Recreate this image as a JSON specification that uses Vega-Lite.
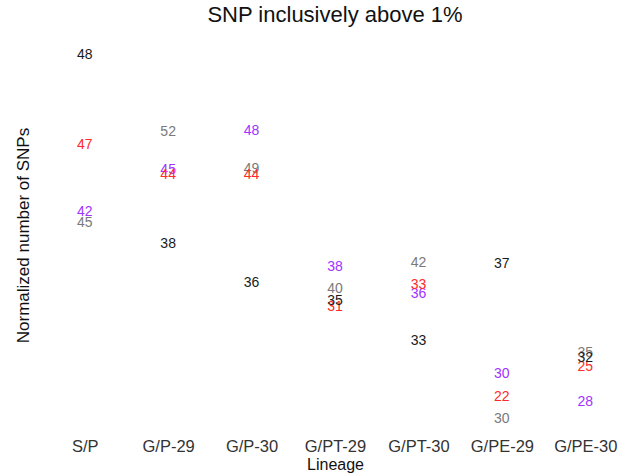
{
  "$schema": "https://vega.github.io/schema/vega-lite/v6.json",
  "autosize": {"type": "none"},
  "width": 584,
  "height": 390,
  "padding": {"left": 43, "top": 40, "right": 0, "bottom": 46},
  "background": "white",
  "config": {
    "view": {"stroke": null},
    "font": "Liberation Sans"
  },
  "title": {
    "text": "SNP inclusively above 1%",
    "fontSize": 22,
    "fontWeight": "normal",
    "color": "#111111",
    "anchor": "middle",
    "offset": 13
  },
  "data": {
    "values": [
      {"lineage": "S/P", "group": "A", "snps": 48, "normalized": 37.5},
      {"lineage": "S/P", "group": "B", "snps": 47, "normalized": 28.5},
      {"lineage": "S/P", "group": "D", "snps": 42, "normalized": 21.8},
      {"lineage": "S/P", "group": "C", "snps": 45, "normalized": 20.7},
      {"lineage": "G/P-29", "group": "C", "snps": 52, "normalized": 29.8},
      {"lineage": "G/P-29", "group": "D", "snps": 45, "normalized": 26.0},
      {"lineage": "G/P-29", "group": "B", "snps": 44, "normalized": 25.5},
      {"lineage": "G/P-29", "group": "A", "snps": 38, "normalized": 18.6},
      {"lineage": "G/P-30", "group": "D", "snps": 48, "normalized": 29.9},
      {"lineage": "G/P-30", "group": "C", "snps": 49, "normalized": 26.1},
      {"lineage": "G/P-30", "group": "B", "snps": 44, "normalized": 25.5},
      {"lineage": "G/P-30", "group": "A", "snps": 36, "normalized": 14.7},
      {"lineage": "G/PT-29", "group": "D", "snps": 38, "normalized": 16.3},
      {"lineage": "G/PT-29", "group": "C", "snps": 40, "normalized": 14.1},
      {"lineage": "G/PT-29", "group": "B", "snps": 31, "normalized": 12.3},
      {"lineage": "G/PT-29", "group": "A", "snps": 35, "normalized": 12.9},
      {"lineage": "G/PT-30", "group": "C", "snps": 42, "normalized": 16.7},
      {"lineage": "G/PT-30", "group": "B", "snps": 33, "normalized": 14.5},
      {"lineage": "G/PT-30", "group": "D", "snps": 36, "normalized": 13.6},
      {"lineage": "G/PT-30", "group": "A", "snps": 33, "normalized": 8.9},
      {"lineage": "G/PE-29", "group": "A", "snps": 37, "normalized": 16.6},
      {"lineage": "G/PE-29", "group": "D", "snps": 30, "normalized": 5.6},
      {"lineage": "G/PE-29", "group": "B", "snps": 22, "normalized": 3.3},
      {"lineage": "G/PE-29", "group": "C", "snps": 30, "normalized": 1.1},
      {"lineage": "G/PE-30", "group": "C", "snps": 35, "normalized": 7.7},
      {"lineage": "G/PE-30", "group": "B", "snps": 25, "normalized": 6.3},
      {"lineage": "G/PE-30", "group": "A", "snps": 32, "normalized": 7.2},
      {"lineage": "G/PE-30", "group": "D", "snps": 28, "normalized": 2.8}
    ]
  },
  "mark": {"type": "text", "fontSize": 14, "baseline": "middle", "align": "center"},
  "encoding": {
    "x": {
      "field": "lineage",
      "type": "ordinal",
      "sort": ["S/P", "G/P-29", "G/P-30", "G/PT-29", "G/PT-30", "G/PE-29", "G/PE-30"],
      "scale": {"type": "point", "padding": 0.5},
      "axis": {
        "title": "Lineage",
        "titleFontSize": 16,
        "titleFontWeight": "normal",
        "titleColor": "#111111",
        "titlePadding": 2,
        "labelAngle": 0,
        "labelFontSize": 16.5,
        "labelColor": "#333333",
        "labelPadding": 8,
        "ticks": false,
        "domain": false,
        "grid": false
      }
    },
    "y": {
      "field": "normalized",
      "type": "quantitative",
      "scale": {"domain": [0, 39], "nice": false, "zero": false},
      "axis": {
        "title": "Normalized number of SNPs",
        "titleFontSize": 17,
        "titleFontWeight": "normal",
        "titleColor": "#111111",
        "titlePadding": 11,
        "labels": false,
        "ticks": false,
        "domain": false,
        "grid": false
      }
    },
    "color": {
      "field": "group",
      "type": "nominal",
      "scale": {"domain": ["A", "B", "C", "D"], "range": ["#1a1a1a", "#ff2a2a", "#7a7a7a", "#a033ff"]},
      "legend": null
    },
    "order": {"field": "group", "sort": "descending"},
    "text": {"field": "snps", "type": "quantitative"}
  }
}
